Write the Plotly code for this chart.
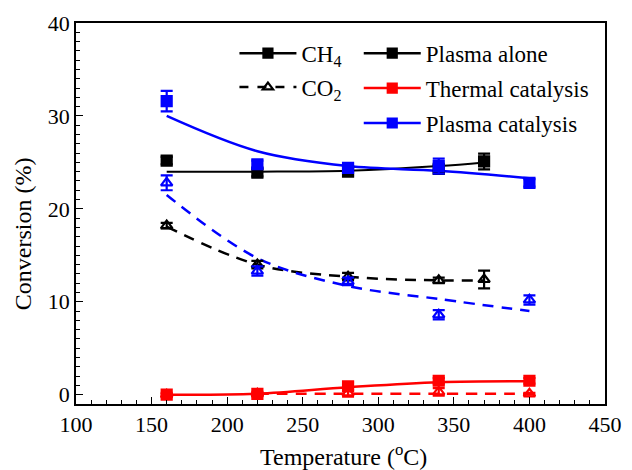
import plotly.graph_objects as go

# Reaction temperature (°C)
temps = [160, 220, 280, 340, 400]
temps_alone = [160, 220, 280, 340, 370]

# CH4 conversion (%)
ch4_alone = [25.2, 23.9, 24.0, 24.3, 25.1]
ch4_alone_err = [0.4, 0.4, 0.4, 0.4, 0.85]
ch4_alone_fit = [24.0, 24.0, 24.1, 24.6, 25.0]

ch4_thermal = [0.0, 0.1, 0.9, 1.5, 1.5]
ch4_thermal_err = [0.2, 0.2, 0.4, 0.3, 0.3]
ch4_thermal_fit = [0.0, 0.1, 0.8, 1.35, 1.45]

ch4_pc = [31.6, 24.8, 24.4, 24.6, 22.8]
ch4_pc_err = [1.1, 0.4, 0.4, 0.8, 0.4]
ch4_pc_fit = [30.0, 26.2, 24.6, 24.1, 23.3]

# CO2 conversion (%)
co2_alone = [18.2, 14.0, 12.7, 12.3, 12.4]
co2_alone_err = [0.3, 0.4, 0.4, 0.3, 0.95]
co2_alone_fit = [18.1, 14.0, 12.7, 12.3, 12.3]

co2_thermal = [0.0, 0.1, 0.2, 0.3, 0.1]
co2_thermal_err = [0.1, 0.1, 0.4, 0.4, 0.1]
temps_thermal_fit = [220, 280, 340, 400]
co2_thermal_fit = [0.1, 0.1, 0.1, 0.1]

co2_pc = [22.8, 13.3, 12.2, 8.6, 10.2]
co2_pc_err = [0.8, 0.5, 0.4, 0.5, 0.5]
co2_pc_fit = [21.5, 14.7, 11.7, 10.3, 9.0]

FONT = "Liberation Serif, Times New Roman, serif"
BLACK, RED, BLUE = "#000000", "#ff0000", "#0000ff"
DASH = "11px,8px"

fig = go.Figure()


def fit_line(x, y, color, dash, width):
    fig.add_trace(go.Scatter(
        x=x, y=y, mode="lines", line=dict(color=color, width=width, dash=dash, shape="spline"),
        showlegend=False, hoverinfo="skip"))


def points(x, y, err, color, symbol):
    fig.add_trace(go.Scatter(
        x=x, y=y, mode="markers",
        marker=dict(symbol=symbol, size=10, color=color, line=dict(color=color, width=2.2)),
        error_y=dict(type="data", array=err, color=color, thickness=2.2, width=6),
        showlegend=False))


fit_line(temps_alone, ch4_alone_fit, BLACK, "solid", 2)
fit_line(temps_alone, co2_alone_fit, BLACK, DASH, 2.5)
fit_line(temps, ch4_pc_fit, BLUE, "solid", 2.5)
fit_line(temps, co2_pc_fit, BLUE, DASH, 2.5)
fit_line(temps, ch4_thermal_fit, RED, "solid", 2.5)
fit_line(temps_thermal_fit, co2_thermal_fit, RED, DASH, 2.5)

points(temps_alone, ch4_alone, ch4_alone_err, BLACK, "square")
points(temps_alone, co2_alone, co2_alone_err, BLACK, "triangle-up-open")
points(temps, ch4_pc, ch4_pc_err, BLUE, "square")
points(temps, co2_pc, co2_pc_err, BLUE, "triangle-up-open")
points(temps, ch4_thermal, ch4_thermal_err, RED, "square")
points(temps, co2_thermal, co2_thermal_err, RED, "triangle-up-open")

# Legend entries: gas (line style) and process (colour)
legend_items = [
    ("legend", "CH<sub>4</sub>", BLACK, "solid", "square"),
    ("legend", "CO<sub>2</sub>", BLACK, "dash", "triangle-up-open"),
    ("legend2", "Plasma alone", BLACK, "solid", "square"),
    ("legend2", "Thermal catalysis", RED, "solid", "square"),
    ("legend2", "Plasma catalysis", BLUE, "solid", "square"),
]
for i, (lg, name, color, dash, sym) in enumerate(legend_items):
    fig.add_trace(go.Scatter(
        x=[None], y=[None], mode="lines+markers", name=name, legend=lg,
        legendgroup=f"g{i}",
        line=dict(color=color, width=2.5, dash=dash),
        marker=dict(symbol=sym, size=9, color=color, line=dict(color=color, width=2.2))))

axis_common = dict(
    showline=True, linecolor=BLACK, linewidth=1.5, mirror=True,
    ticks="inside", ticklen=7, tickwidth=1.2, tickcolor=BLACK,
    showgrid=False, zeroline=False, automargin=False,
    tickfont=dict(family=FONT, size=22, color=BLACK),
)

title_font = dict(family=FONT, size=24, color=BLACK)

fig.update_layout(
    width=632, height=470,
    margin=dict(l=76, r=27, t=23, b=66),
    paper_bgcolor="white", plot_bgcolor="white",
    font=dict(family=FONT, size=22, color=BLACK),
    xaxis=dict(range=[100, 450], dtick=50, tick0=100,
               minor=dict(dtick=10, ticks="inside", ticklen=4, tickcolor=BLACK, tickwidth=1.2),
               **axis_common),
    yaxis=dict(range=[-1, 40], dtick=10, tick0=0,
               minor=dict(dtick=1, ticks="inside", ticklen=4, tickcolor=BLACK, tickwidth=1.2),
               **axis_common),
    annotations=[
        dict(text="Conversion (%)", textangle=-90, showarrow=False,
             xref="paper", yref="paper", x=-0.1, y=0.446, xanchor="center", yanchor="middle",
             font=title_font),
        dict(text="Temperature (<sup>o</sup>C)", showarrow=False,
             xref="paper", yref="paper", x=0.505, y=-0.134, xanchor="center", yanchor="middle",
             font=title_font),
    ],
    legend=dict(x=0.2995, y=0.977, xanchor="left", yanchor="top", bgcolor="rgba(0,0,0,0)",
                font=dict(family=FONT, size=23), tracegroupgap=1, itemwidth=57),
    legend2=dict(x=0.5345, y=0.977, xanchor="left", yanchor="top", bgcolor="rgba(0,0,0,0)",
                 font=dict(family=FONT, size=23), tracegroupgap=2, itemwidth=57),
)

fig.write_html("out.html")
